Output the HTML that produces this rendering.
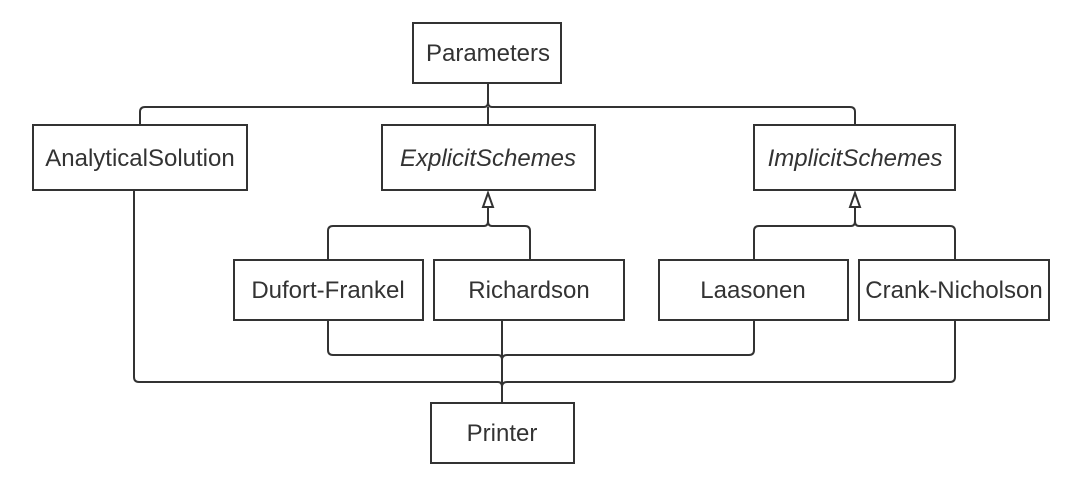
<!DOCTYPE html>
<html><head><meta charset="utf-8"><style>
html,body{margin:0;padding:0;background:#fff;}
svg{display:block;}
text{font-family:"Liberation Sans",sans-serif;font-size:24px;fill:#333;text-anchor:middle;}
</style></head><body>
<svg width="1084" height="486" viewBox="0 0 1084 486" xmlns="http://www.w3.org/2000/svg">
<g fill="none" stroke="#333" stroke-width="2">
<path d="M488 83 V102 Q488 107 484 107 H145 Q140 107 140 112 V125"/>
<path d="M488 102 Q488 107 492 107 H850 Q855 107 855 112 V125"/>
<path d="M488 107 V125"/>
<path d="M488 207 V221 Q488 226 484 226 H333 Q328 226 328 231 V259"/>
<path d="M488 221 Q488 226 492 226 H525 Q530 226 530 231 V259"/>
<polygon points="488,193 483,207 493,207" fill="#fff"/>
<path d="M855 207 V221 Q855 226 851 226 H759 Q754 226 754 231 V259"/>
<path d="M855 221 Q855 226 859 226 H950 Q955 226 955 231 V259"/>
<polygon points="855,193 850,207 860,207" fill="#fff"/>
<path d="M328 320 V350 Q328 355 333 355 H498 Q502 355 502 360"/>
<path d="M754 320 V350 Q754 355 749 355 H507 Q502 355 502 360"/>
<path d="M134 190 V377 Q134 382 139 382 H498 Q502 382 502 387"/>
<path d="M955 320 V377 Q955 382 950 382 H507 Q502 382 502 387"/>
<path d="M502 320 V403"/>
</g>
<g fill="#fff" stroke="#333" stroke-width="2">
<rect x="413" y="23" width="148" height="60"/>
<rect x="33" y="125" width="214" height="65"/>
<rect x="382" y="125" width="213" height="65"/>
<rect x="754" y="125" width="201" height="65"/>
<rect x="234" y="260" width="189" height="60"/>
<rect x="434" y="260" width="190" height="60"/>
<rect x="659" y="260" width="189" height="60"/>
<rect x="859" y="260" width="190" height="60"/>
<rect x="431" y="403" width="143" height="60"/>
</g>
<text x="488" y="61">Parameters</text>
<text x="140" y="166">AnalyticalSolution</text>
<text x="488" y="166" font-style="italic">ExplicitSchemes</text>
<text x="855" y="166" font-style="italic">ImplicitSchemes</text>
<text x="328" y="298">Dufort-Frankel</text>
<text x="529" y="298">Richardson</text>
<text x="753" y="298">Laasonen</text>
<text x="954" y="298">Crank-Nicholson</text>
<text x="502" y="441">Printer</text>
</svg>
</body></html>
